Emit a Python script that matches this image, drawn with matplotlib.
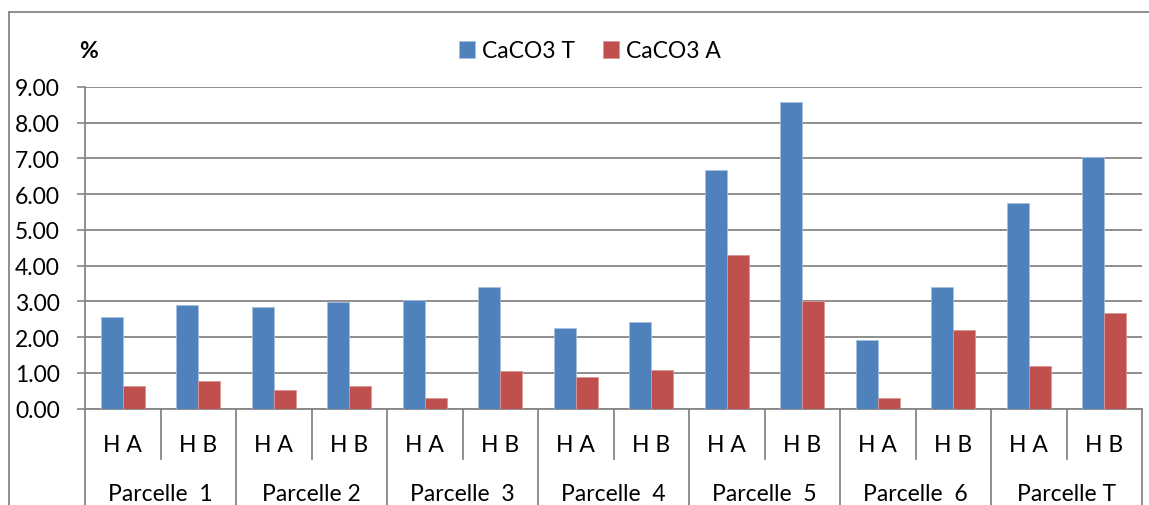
import matplotlib.pyplot as plt
from matplotlib.transforms import blended_transform_factory
import numpy as np

# values
parcelles = ["Parcelle  1", "Parcelle 2", "Parcelle  3", "Parcelle  4",
             "Parcelle  5", "Parcelle  6", "Parcelle T"]
horizons = ["H A", "H B"]
caco3_t = [2.55, 2.89, 2.83, 2.98, 3.05, 3.40, 2.26, 2.41,
           6.68, 8.59, 1.91, 3.40, 5.74, 7.03]
caco3_a = [0.62, 0.78, 0.53, 0.64, 0.28, 1.04, 0.88, 1.08,
           4.30, 3.01, 0.28, 2.21, 1.20, 2.67]
yticks = [0, 1, 2, 3, 4, 5, 6, 7, 8, 9]

plt.rcParams['font.family'] = ['Lato', 'DejaVu Sans']
W, H = 1149, 506
fs = 16.5
fig = plt.figure(figsize=(W / 100, H / 100), dpi=100)
ax = fig.add_axes([85 / W, (H - 409.5) / H, (1142 - 85) / W, (409.5 - 88) / H])

grey = "#868686"
blue = "#4F81BD"
red = "#C0504D"

x = np.arange(len(caco3_t))
bw = 0.29
ax.bar(x - bw / 2, caco3_t, bw, color=blue, edgecolor="#A7C0DE", linewidth=0.6,
       label="CaCO3 T", zorder=3)
ax.bar(x + bw / 2, caco3_a, bw, color=red, edgecolor="#D99795", linewidth=0.6,
       label="CaCO3 A", zorder=3)

ax.set_xlim(-0.5, len(caco3_t) - 0.5)
ax.set_ylim(0, 9)
ax.set_yticks(yticks)
ax.set_yticklabels(["%.2f" % v for v in yticks], fontsize=fs)
ax.tick_params(axis="y", length=6, width=1.2, color=grey, pad=12)
ax.set_xticks([])
ax.yaxis.grid(True, color=grey, linewidth=1.3, zorder=0)
for s in ["top", "right"]:
    ax.spines[s].set_visible(False)
for s in ["left", "bottom"]:
    ax.spines[s].set_color(grey)
    ax.spines[s].set_linewidth(1.3)

# category axis: horizon labels and parcel labels with separators
tr = blended_transform_factory(ax.transData, fig.transFigure)
y_small = (H - 460) / H
for i in range(len(caco3_t) + 1):
    xb = i - 0.5
    y_end = 0 if i % 2 == 0 else y_small
    ax.plot([xb, xb], [(H - 409.5) / H, y_end], transform=tr, color=grey,
            linewidth=1.3, clip_on=False)
for i in range(len(caco3_t)):
    ax.text(i, (H - 446) / H, horizons[i % 2], transform=tr, ha="center",
            va="center", fontsize=fs)
for j, p in enumerate(parcelles):
    ax.text(2 * j + 0.5, (H - 495) / H, p, transform=tr, ha="center",
            va="center", fontsize=fs)

fig.text(88 / W, (H - 52) / H, "%", fontsize=fs, fontweight="bold",
         ha="center", va="center")

leg = ax.legend(loc="center", bbox_to_anchor=(590 / W, (H - 52) / H),
                bbox_transform=fig.transFigure, ncol=2, frameon=False,
                fontsize=fs, handlelength=0.7, handleheight=0.7,
                handletextpad=0.3, columnspacing=1.25)

# outer chart frame (top and left edges only are visible)
fig.add_artist(plt.Line2D([8.5 / W, 1], [(H - 12.5) / H] * 2,
                          transform=fig.transFigure, color=grey, linewidth=1.3))
fig.add_artist(plt.Line2D([8.5 / W] * 2, [0, (H - 12.5) / H],
                          transform=fig.transFigure, color=grey, linewidth=1.3))

fig.savefig("out.png", dpi=100)
